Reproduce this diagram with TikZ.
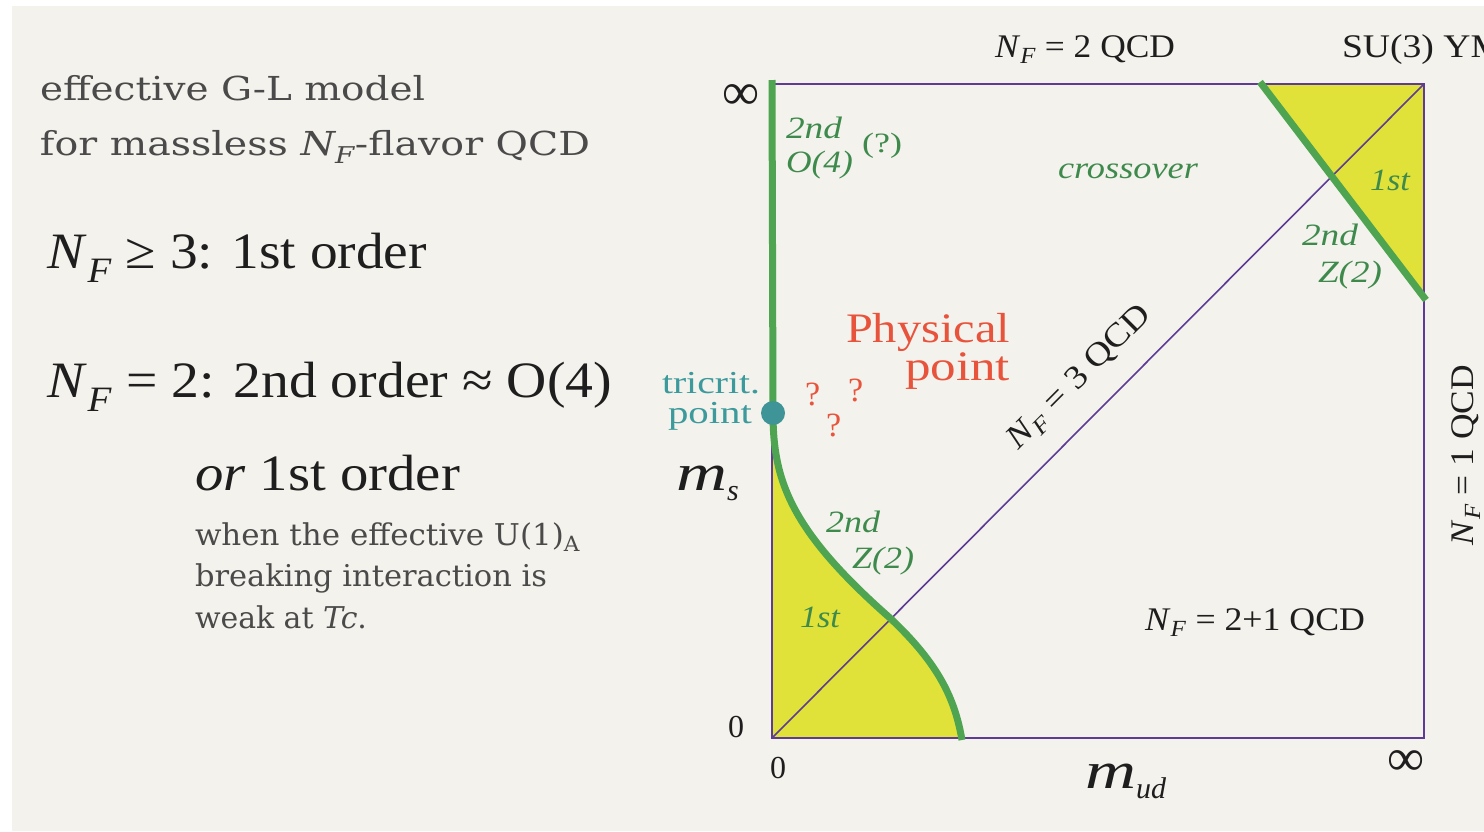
\documentclass[tikz,border=0pt]{standalone}
\usepackage{fontspec}
\setmainfont{Liberation Serif}
\newfontfamily\grayfont{DejaVu Serif}
\usepackage{graphicx}
\newsavebox\fitbox
\newcommand\fitw[2]{\sbox\fitbox{#2}\pgfmathsetmacro\fitfac{#1/\the\wd\fitbox}\scalebox{\fitfac}[1]{\usebox\fitbox}}
\newcommand\fs[1]{\fontsize{#1}{#1}\selectfont}
\newcommand\NF{\textit{N}\textsubscript{\textit{F}}}
\definecolor{bgc}{HTML}{F4F2EC}
\definecolor{pur}{HTML}{5E3C96}
\definecolor{grn}{HTML}{4EA450}
\definecolor{gtxt}{HTML}{3E8A4C}
\definecolor{yel}{HTML}{E0E23A}
\definecolor{redt}{HTML}{E8533C}
\definecolor{teal}{HTML}{3C9A9C}
\definecolor{tealdot}{HTML}{3F9497}
\definecolor{grayt}{HTML}{4A4A4A}
\definecolor{blk}{HTML}{1E1E1E}
\tikzset{
  lbl/.style={anchor=base west,inner sep=0pt,outer sep=0pt},
  purline/.style={draw=pur,line width=2.2pt},
  grnline/.style={draw=grn,line width=7pt},
  gl/.style={lbl,text=gtxt,font=\fs{31}\itshape},
}
\begin{document}
\begin{tikzpicture}[x=1pt,y=-1pt]
\useasboundingbox (0,0) rectangle (1484,831);
\fill[white] (0,0) rectangle (1484,831);
\fill[bgc] (12,6) rectangle (1484,831);
% corners
\coordinate (BL) at (772,738);
\coordinate (BR) at (1424,738);
\coordinate (TR) at (1424,84);
\coordinate (TL) at (772,84);
\coordinate (tri) at (773,413);
\coordinate (cross) at (890,618);
\coordinate (cb) at (962,740);
\coordinate (ga) at (1260,82);
\coordinate (gb) at (1426,300);
% yellow regions
\fill[yel] (772,425) .. controls (773,480) and (790,530) .. (cross) .. controls (940,665) and (955,700) .. (962,738) -- (BL) -- cycle;
\fill[yel] (1260,84) -- (TR) -- (1424,298) -- cycle;
% purple frame
\draw[purline] (TL) rectangle (BR);
\draw[draw=pur,line width=1.6pt] (BL) -- (TR);
% green transition lines
\draw[grnline] (772,80) -- (tri);
\draw[grnline] (tri) .. controls (773,480) and (790,530) .. (cross) .. controls (940,665) and (955,700) .. (cb);
\draw[grnline] (ga) -- (gb);
\fill[tealdot] (tri) circle (12);
% left column text
\node[lbl,text=grayt,font=\fs{33}\grayfont] (t1) at (40,100) {\fitw{385}{effective G-L model}};
\node[lbl,text=grayt,font=\fs{33}\grayfont] (t2) at (40,155) {\fitw{550}{for massless {\itshape N\textsubscript{F}}-flavor QCD}};
\node[lbl,text=blk,font=\fs{51}] (t3) at (48,268) {\fitw{379}{\NF{} ≥ 3: 1st order}};
\node[lbl,text=blk,font=\fs{51}] (t4) at (48,397) {\fitw{564}{\NF{} = 2: 2nd order ≈ O(4)}};
\node[lbl,text=blk,font=\fs{51}] (t5) at (195,490) {\fitw{265}{\textit{or} 1st order}};
\node[lbl,text=grayt,font=\fs{30}\grayfont] (t6) at (195,545) {\fitw{385}{when the effective U(1)\textsubscript{A}}};
\node[lbl,text=grayt,font=\fs{30}\grayfont] (t7) at (195,586) {\fitw{352}{breaking interaction is}};
\node[lbl,text=grayt,font=\fs{30}\grayfont] (t8) at (195,628) {\fitw{172}{weak at \textit{Tc}.}};
% diagram labels
\node[lbl,text=blk,font=\fs{33}] (nf2) at (995,57) {\fitw{180}{\NF{} = 2 QCD}};
\node[lbl,text=blk,font=\fs{33}] (su3) at (1342,57) {\fitw{162}{SU(3) YM}};
\node[inner sep=0,text=blk,font=\fs{52}] (inf1) at (741,97) {∞};
\node[inner sep=0,text=blk,font=\fs{52}] (inf2) at (1406,763) {∞};
\node[lbl,text=blk,font=\fs{32}] (z1) at (728,737) {0};
\node[lbl,text=blk,font=\fs{32}] (z2) at (770,778) {0};
\node[lbl,text=blk,font=\fs{52}\itshape] (ms) at (676,490) {\fitw{51}{m}\raisebox{-0.2em}{\fs{30}s}};
\node[lbl,text=blk,font=\fs{52}\itshape] (mud) at (1085,788) {\fitw{51}{m}\raisebox{-0.2em}{\fs{30}ud}};
\node[gl] (o2nd) at (786,138) {\fitw{56}{2nd}};
\node[gl] (o4) at (786,172) {\fitw{67}{O(4)}};
\node[lbl,text=gtxt,font=\fs{28}] (oq) at (862,152) {\fitw{40}{(?)}};
\node[gl] (xo) at (1058,178) {\fitw{140}{crossover}};
\node[gl] (st1) at (1370,190) {\fitw{40}{1st}};
\node[gl] (z2nd) at (1302,245) {\fitw{56}{2nd}};
\node[gl] (zz2) at (1318,282) {\fitw{64}{Z(2)}};
\node[lbl,text=redt,font=\fs{42}] (phys) at (846,342) {\fitw{164}{Physical}};
\node[lbl,text=redt,font=\fs{42}] (ppt) at (905,380) {\fitw{105}{point}};
\node[lbl,text=teal,font=\fs{32}] (tri1) at (662,393) {\fitw{98}{tricrit.}};
\node[lbl,text=teal,font=\fs{32}] (tri2) at (668,423) {\fitw{84}{point}};
\node[lbl,text=redt,font=\fs{34}] (q1) at (805,405) {?};
\node[lbl,text=redt,font=\fs{34}] (q2) at (848,401) {?};
\node[lbl,text=redt,font=\fs{34}] (q3) at (826,436) {?};
\node[gl] (l2nd) at (826,532) {\fitw{54}{2nd}};
\node[gl] (lz2) at (852,568) {\fitw{62}{Z(2)}};
\node[gl] (l1st) at (800,627) {\fitw{40}{1st}};
\node[lbl,text=blk,font=\fs{33}] (nf21) at (1145,630) {\fitw{220}{\NF{} = 2+1 QCD}};
\node[inner sep=0,text=blk,font=\fs{33},rotate=45.1] (nf3) at (1080,378) {\fitw{190}{\NF{} = 3 QCD}};
\node[inner sep=0,text=blk,font=\fs{33},rotate=90] (nf1) at (1466,455) {\fitw{180}{\NF{} = 1 QCD}};
\end{tikzpicture}
\end{document}
